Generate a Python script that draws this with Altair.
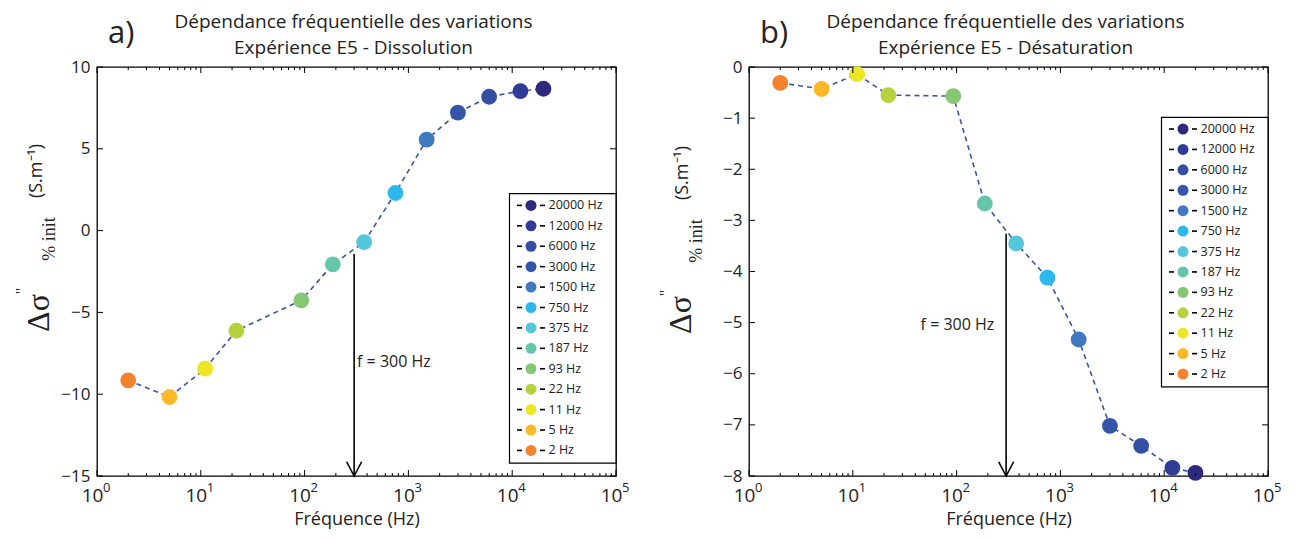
import altair as alt
import pandas as pd

# ---------------- data ----------------
freq = [2, 5, 11, 22, 93, 187, 375, 750, 1500, 3000, 6000, 12000, 20000]
freq_labels = ["2 Hz", "5 Hz", "11 Hz", "22 Hz", "93 Hz", "187 Hz", "375 Hz", "750 Hz",
               "1500 Hz", "3000 Hz", "6000 Hz", "12000 Hz", "20000 Hz"]
colors = ["#f5822f", "#fdb827", "#ece623", "#b4d23d", "#86c774", "#66c6ab", "#55c7dc",
          "#2cb8ec", "#3e79c1", "#3556a8", "#324fa3", "#303d98", "#2d2a7e"]
val_a = [-9.15, -10.17, -8.44, -6.12, -4.26, -2.06, -0.70, 2.30, 5.56, 7.21, 8.18, 8.53, 8.67]
val_b = [-0.31, -0.43, -0.14, -0.55, -0.57, -2.67, -3.45, -4.12, -5.33, -7.02, -7.41, -7.84, -7.94]

x_decades = [1, 10, 100, 1000, 10000, 100000]
x_exponents = ["0", "1", "2", "3", "4", "5"]
x_minor = [m * d for d in [1, 10, 100, 1000, 10000] for m in range(2, 10)]
yticks_a = [-15, -10, -5, 0, 5, 10]
yticks_b = [-8, -7, -6, -5, -4, -3, -2, -1, 0]

arrow_f = 300
arrow_a = [-1.43, -15]
arrow_b = [-3.26, -8]
ftext = "f = 300 Hz"
ftext_a = [320, -8.03]
ftext_b = [45, -5.05]

title_line1 = "Dépendance fréquentielle des variations"
title_a = "Expérience E5 - Dissolution"
title_b = "Expérience E5 - Désaturation"

W, H = 519, 409
SANS = "Open Sans"
SERIF = "Liberation Serif"
LINE_COLOR = "#3a54a4"
TXT = "#222222"


def one():
    return alt.Data(values=[{}])


def txt(text, x, y, size, font=SANS, angle=0, align="center", baseline="alphabetic"):
    return alt.Chart(one()).mark_text(text=text, font=font, fontSize=size, angle=angle,
                                      align=align, baseline=baseline, color=TXT).encode(
        x=alt.value(x), y=alt.value(y))


def panel(vals, ydom, yticks, letter, sub, arrow, tpos, leg_top, ylab):
    df = pd.DataFrame({"f": freq, "v": vals, "c": colors})
    X = alt.X("f:Q",
              scale=alt.Scale(type="log", domain=[1, 100000], nice=False),
              axis=alt.Axis(values=x_decades, labelExpr="'10'", ticks=False,
                            domain=False, grid=False, title="Fréquence (Hz)",
                            labelFont=SANS, labelFontSize=19, labelColor=TXT,
                            labelPadding=10, labelOffset=-5, titleFont=SANS, titleFontSize=18,
                            titleFontWeight="normal", titleColor=TXT, titlePadding=5,
                            labelFlush=False))
    Y = alt.Y("v:Q",
              scale=alt.Scale(domain=ydom, nice=False, zero=False),
              axis=alt.Axis(values=yticks, ticks=False, domain=False, grid=False,
                            title=None, labelFont=SANS, labelFontSize=17,
                            labelColor=TXT, labelPadding=7))
    line = alt.Chart(df).mark_line(strokeDash=[5, 4], color=LINE_COLOR,
                                   strokeWidth=1.6).encode(x=X, y=Y)
    pts = alt.Chart(df).mark_circle(size=250, opacity=1).encode(
        x="f:Q", y="v:Q", color=alt.Color("c:N", scale=None))

    major = pd.DataFrame({"f": x_decades, "e": x_exponents})
    minor = pd.DataFrame({"f": x_minor})
    yt = pd.DataFrame({"v": yticks})
    tk = dict(color="black", strokeWidth=1)
    ticks = [
        alt.Chart(major).mark_rule(**tk).encode(x="f:Q", y=alt.value(H), y2=alt.value(H - 6)),
        alt.Chart(major).mark_rule(**tk).encode(x="f:Q", y=alt.value(0), y2=alt.value(6)),
        alt.Chart(minor).mark_rule(**tk).encode(x="f:Q", y=alt.value(H), y2=alt.value(H - 3)),
        alt.Chart(minor).mark_rule(**tk).encode(x="f:Q", y=alt.value(0), y2=alt.value(3)),
        alt.Chart(yt).mark_rule(**tk).encode(y="v:Q", x=alt.value(0), x2=alt.value(6)),
        alt.Chart(yt).mark_rule(**tk).encode(y="v:Q", x=alt.value(W), x2=alt.value(W - 6)),
    ]
    expo = alt.Chart(major).mark_text(align="left", baseline="alphabetic", font=SANS,
                                      fontSize=13, color=TXT, dx=6).encode(
        x="f:Q", y=alt.value(H + 16), text="e:N")

    adf = pd.DataFrame({"f": [arrow_f], "v": [arrow[0]], "v2": [arrow[1]]})
    arrow_line = alt.Chart(adf).mark_rule(color="black", strokeWidth=1.6).encode(
        x="f:Q", y="v:Q", y2="v2:Q")
    arrow_head = alt.Chart(pd.DataFrame({"f": [arrow_f], "v": [arrow[1]]})).mark_point(
        shape="M -1 -1.9 L 0 0 L 1 -1.9", filled=False, size=225, color="black",
        strokeWidth=1.6, opacity=1).encode(x="f:Q", y="v:Q")
    ftxt = alt.Chart(pd.DataFrame({"f": [tpos[0]], "v": [tpos[1]], "t": [ftext]})).mark_text(
        align="left", baseline="middle", font=SANS, fontSize=16, color=TXT).encode(
        x="f:Q", y="v:Q", text="t:N")

    # legend (custom: dash - dot - dash label)
    leg = pd.DataFrame({"row": list(range(13)), "lab": freq_labels[::-1], "c": colors[::-1]})
    step = 20.42
    first = leg_top + 11.7
    leg_box = alt.Chart(one()).mark_rect(fill="white", stroke="black", strokeWidth=1.2).encode(
        x=alt.value(412.5), x2=alt.value(W), y=alt.value(leg_top), y2=alt.value(leg_top + 269.5))
    base_leg = alt.Chart(leg).transform_calculate(ly=f"{first} + datum.row * {step}")
    ly = alt.Y("ly:Q", scale=None, axis=None)
    leg_d1 = base_leg.mark_rule(color="black", strokeWidth=1.6).encode(
        y=ly, x=alt.value(420), x2=alt.value(425))
    leg_d2 = base_leg.mark_rule(color="black", strokeWidth=1.6).encode(
        y=ly, x=alt.value(443), x2=alt.value(448))
    leg_dot = base_leg.mark_circle(size=121, opacity=1).encode(
        y=ly, x=alt.value(434), color=alt.Color("c:N", scale=None))
    leg_txt = base_leg.mark_text(align="left", baseline="middle", font=SANS, fontSize=12.5,
                                 color=TXT).encode(y=ly, x=alt.value(451.5), text="lab:N")

    # y-axis title composed of pieces
    yl = [
        txt("Δσ", ylab[0], ylab[1], 32, SERIF, 270),
        txt("''", ylab[2], ylab[3], 16, SERIF, 270),
        txt("% init", ylab[4], ylab[5], 18, SERIF, 270),
        txt("(S.m⁻¹)", ylab[6], ylab[7], 18, SANS, 270),
    ]
    # title lines and panel letter
    tl = [
        txt(title_line1, W / 2 - 3, -39, 19),
        txt(sub, W / 2 - 3, -13, 19),
        txt(letter, 11, -24, 31, align="left"),
    ]

    layers = [line, pts] + ticks + [expo, arrow_line, arrow_head, ftxt, leg_box, leg_d1,
                                    leg_d2, leg_dot, leg_txt] + yl + tl
    return alt.layer(*layers).properties(width=W, height=H)


pa = panel(val_a, [-15, 10], yticks_a, "a)", title_a, arrow_a, ftext_a, 126.7,
           [-48, 246, -70, 224, -42, 172, -55, 104])
pb = panel(val_b, [-8, 0], yticks_b, "b)", title_b, arrow_b, ftext_b, 50.3,
           [-58, 248, -78, 226, -47, 174, -61, 106])

chart = alt.hconcat(pa, pb, spacing=133, bounds="flush").configure_view(
    stroke="black", strokeWidth=1.3).properties(padding={"left": 5, "top": 4, "right": 5, "bottom": 0})

chart.save("out.html", embed_options={"renderer": "svg", "actions": False})
